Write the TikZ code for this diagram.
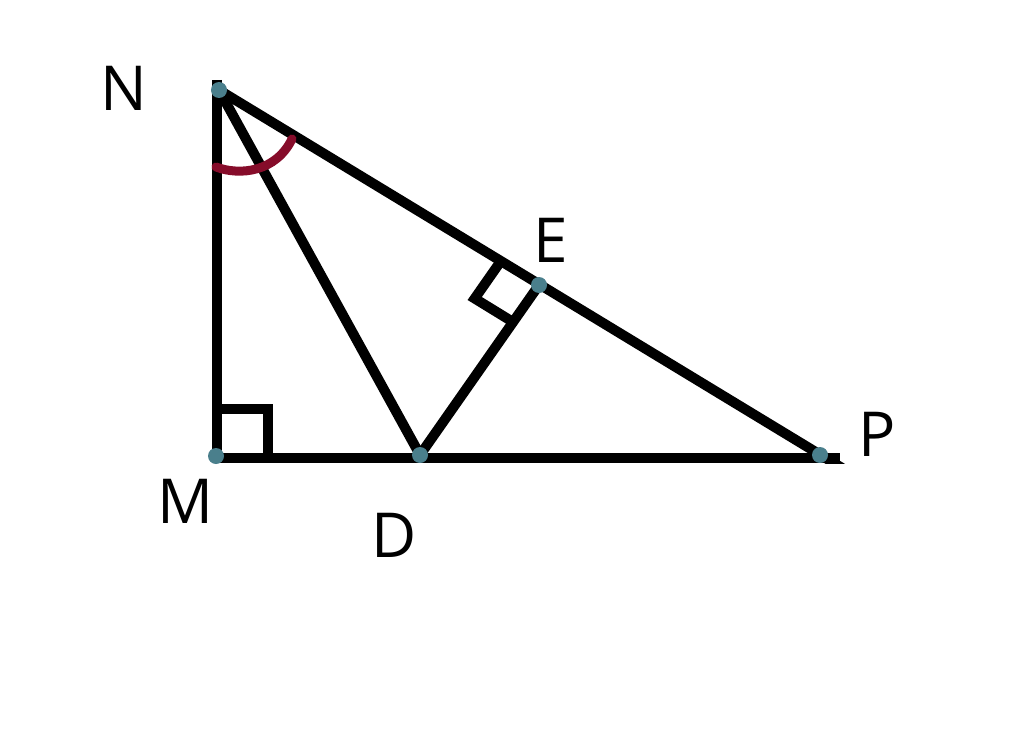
\documentclass[tikz,border=0pt]{standalone}
\usepackage{fontspec}
\setmainfont{Open Sans}
\definecolor{dotcol}{RGB}{74,127,140}
\definecolor{arccol}{RGB}{134,12,42}
\tikzset{
  seg/.style={line width=10pt, black},
  vdot/.style={circle, fill=dotcol, inner sep=0pt, minimum size=16pt},
  lbl/.style={font=\fontsize{62}{70}\selectfont, inner sep=0pt},
  angarc/.style={line width=9pt, arccol, line cap=round}
}
\begin{document}
\begin{tikzpicture}[x=1pt,y=-1pt]
\useasboundingbox (0,0) rectangle (1024,749);
\coordinate (N) at (219,90);
\coordinate (M) at (216,456);
\coordinate (D) at (420,455);
\coordinate (E) at (539,285);
\coordinate (P) at (820,455);
\coordinate (Ntop) at (217,80);
\coordinate (Mbot) at (217,463);
\coordinate (Bl) at (212,458);
\coordinate (Br) at (840,458);
\coordinate (Ns) at (214,87);
\coordinate (Pe) at (852,474);
% triangle sides
\draw[seg] (Ntop) -- (Mbot);
\draw[seg] (Bl) -- (Br);
\begin{scope}
\clip (0,0) rectangle (1024,463);
\draw[seg] (Ns) -- (Pe);
\end{scope}
\draw[seg] (N) -- (D);
\draw[seg] (D) -- (E);
% right angle at M
\coordinate (Ma) at (216,409);
\coordinate (Mb) at (268,409);
\coordinate (Mc) at (268,458);
\draw[seg] (Ma) -- (Mb) -- (Mc);
% right angle at E
\coordinate (Ea) at (500.5,261.6);
\coordinate (Eb) at (474.7,298.5);
\coordinate (Ec) at (513,322);
\draw[seg] (Ea) -- (Eb) -- (Ec);
% angle arc at N
\coordinate (A1) at (216,167);
\coordinate (A2) at (292,139);
\draw[angarc] (A1) .. controls (240,176) and (276,172) .. (A2);
% vertex dots
\node[vdot] (dN) at (N) {};
\node[vdot] (dM) at (M) {};
\node[vdot] (dD) at (D) {};
\node[vdot] (dE) at (E) {};
\node[vdot] (dP) at (P) {};
% labels
\node[lbl] (lN) at (124,88) {N};
\node[lbl] (lM) at (185,501) {M};
\node[lbl] (lD) at (394,535) {D};
\node[lbl] (lE) at (551,240) {E};
\node[lbl] (lP) at (877,434) {P};
\end{tikzpicture}
\end{document}
